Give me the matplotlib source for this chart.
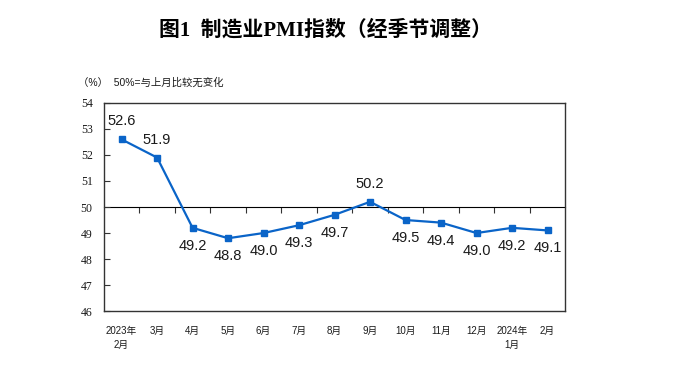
import matplotlib
matplotlib.use("Agg")
import matplotlib.pyplot as plt
import numpy as np

plt.rcParams['font.family'] = ['Liberation Sans', 'Noto Sans CJK SC', 'DejaVu Sans']

months = ['2023年\n2月', '3月', '4月', '5月', '6月', '7月', '8月', '9月',
          '10月', '11月', '12月', '2024年\n1月', '2月']
pmi = [52.6, 51.9, 49.2, 48.8, 49.0, 49.3, 49.7, 50.2, 49.5, 49.4, 49.0, 49.2, 49.1]
# label above (1) or below (-1) the point
label_side = [1, 1, -1, -1, -1, -1, -1, 1, -1, -1, -1, -1, -1]
y_ticks = [46, 47, 48, 49, 50, 51, 52, 53, 54]

line_color = '#0A64C8'
text_color = '#1A1A1A'
frame_color = '#333333'

fig = plt.figure(figsize=(6.97, 3.73), dpi=100)
ax = fig.add_axes([0.149, 0.166, 0.662, 0.558])

x = np.arange(len(months))
ax.plot(x, pmi, color=line_color, linewidth=1.6, marker='s', markersize=4.5, zorder=3)

for xi, v, side in zip(x, pmi, label_side):
    ax.annotate(f'{v:.1f}', (xi, v), xytext=(0, 13 * side), textcoords='offset points',
                ha='center', va='center', fontsize=10.5, color=text_color)

ax.set_xlim(-0.5, len(months) - 0.5)
ax.set_ylim(46, 54)
ax.set_yticks(y_ticks)
ax.set_yticklabels([str(t) for t in y_ticks], family='Liberation Serif', fontsize=8.5, color=text_color)
ax.tick_params(axis='y', direction='in', length=4, width=0.8, color=frame_color, pad=8)

ax.set_xticks(x)
ax.set_xticklabels(months, fontsize=7, color=text_color, linespacing=1.5)
ax.tick_params(axis='x', length=0, pad=11)
for lab in ax.get_xticklabels():
    lab.set_verticalalignment('top')

for s in ax.spines.values():
    s.set_color(frame_color)
    s.set_linewidth(1.0)

# 50 line with category boundary ticks
sec = ax.secondary_xaxis(0.5)
sec.set_xticks(np.arange(0.5, len(months) - 1, 1.0))
sec.set_xticklabels([])
sec.tick_params(direction='in', length=4, width=0.8, color=frame_color)
sec.spines['bottom'].set_color(frame_color)
sec.spines['bottom'].set_linewidth(1.0)

fig.text(0.467, 0.92, '图1  制造业PMI指数（经季节调整）', ha='center', va='center',
         fontsize=15, fontweight='bold', color='black',
         family=['Liberation Serif', 'Noto Sans CJK SC'])
fig.text(0.112, 0.778, '（%）  50%=与上月比较无变化', ha='left', va='center',
         fontsize=7.5, color=text_color)

fig.savefig('out.png', dpi=100)
